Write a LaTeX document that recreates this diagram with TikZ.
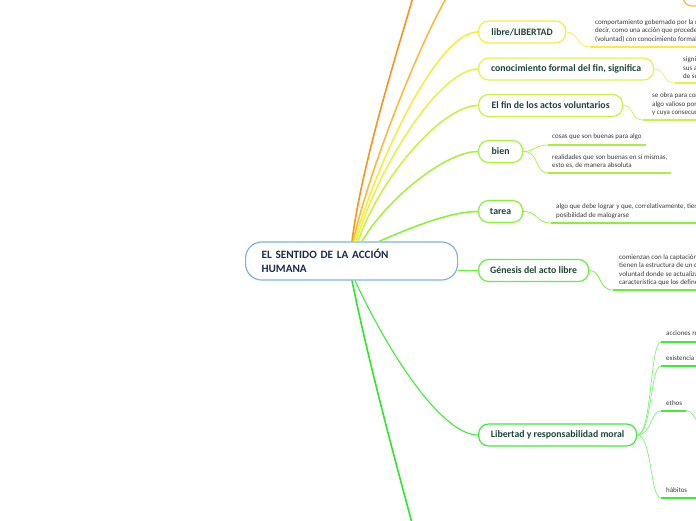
\documentclass[tikz,border=0pt]{standalone}
\usepackage{fontspec}
\setmainfont{Carlito}
\definecolor{cA}{HTML}{F7941D}
\definecolor{cB}{HTML}{FBB83A}
\definecolor{cC}{HTML}{F7EC3E}
\definecolor{cD}{HTML}{E6F24A}
\definecolor{cE}{HTML}{CBF043}
\definecolor{cF}{HTML}{ABF03E}
\definecolor{cG}{HTML}{8AF03A}
\definecolor{cH}{HTML}{66EE38}
\definecolor{cI}{HTML}{3EEC36}
\definecolor{cJ}{HTML}{2EE62E}
\definecolor{centB}{HTML}{7DB3DD}
\definecolor{titleC}{HTML}{1B2A4E}
\definecolor{txtG}{HTML}{1E4638}
\definecolor{leafC}{HTML}{3A3A3A}
\tikzset{
  central/.style={draw=centB, line width=1.2pt, rounded corners=16pt, fill=white,
    anchor=west, minimum height=38pt, text width=180pt, inner xsep=16pt, align=left,
    text=titleC, font=\bfseries\fontsize{11.2}{14}\selectfont},
  branch/.style={draw, rounded corners=10pt, line width=1.2pt, fill=white, anchor=west,
    minimum height=22pt, inner xsep=8pt, text=txtG, font=\bfseries\fontsize{9.8}{11}\selectfont},
  leaf/.style={anchor=west, align=left, inner sep=0pt, text=leafC,
    font=\fontsize{7}{8.5}\selectfont},
  mainline/.style={line width=1.6pt},
  thinline/.style={line width=1.1pt},
  subline/.style={line width=0.7pt},
  uline/.style={line width=2pt},
}
\begin{document}
\begin{tikzpicture}[x=1pt,y=-1pt]
\useasboundingbox (0,0) rectangle (696,520);
\clip (0,0) rectangle (696,520);

% central node
\node[central] (c) at (245,261) {EL SENTIDO DE LA ACCIÓN\\HUMANA};

% branch nodes
\node[branch, draw=cC, minimum width=87pt] (libre) at (478,32) {libre/LIBERTAD};
\node[branch, draw=cD, minimum width=175pt] (conoc) at (478,69) {conocimiento formal del fin, significa};
\node[branch, draw=cE, minimum width=144pt] (fin) at (478,105.5) {El fin de los actos voluntarios};
\node[branch, draw=cF, minimum width=44pt] (bien) at (478,151.5) {bien};
\node[branch, draw=cG, minimum width=44pt] (tarea) at (478,211.5) {tarea};
\node[branch, draw=cH, minimum width=110pt] (gen) at (478,270.5) {Génesis del acto libre};
\node[branch, draw=cI, minimum width=158pt] (lib) at (478,435) {Libertad y responsabilidad moral};

% off-picture ends of branches
\coordinate (topA) at (413,-3);
\coordinate (topB) at (447,-3);
\coordinate (botJ) at (412,523);

% main connectors
\draw[mainline, cA] ([xshift=107pt]c.north west) .. controls (362,160) and (404,30) .. (topA);
\draw[mainline, cB] ([xshift=108pt]c.north west) .. controls (372,160) and (423,37) .. (topB);
\draw[mainline, cC] ([xshift=109pt]c.north west) .. controls (384,145) and (440,32) .. (libre.west);
\draw[mainline, cD] ([xshift=111pt]c.north west) .. controls (382,158) and (442,69) .. (conoc.west);
\draw[mainline, cE] ([xshift=113pt]c.north west) .. controls (381,175) and (443,105.5) .. (fin.west);
\draw[mainline, cF] ([xshift=117pt]c.north west) .. controls (386,200) and (445,151.5) .. (bien.west);
\draw[mainline, cG] ([xshift=134pt]c.north west) .. controls (410,228) and (450,211.5) .. (tarea.west);
\draw[mainline, cH] ([yshift=-9.5pt]c.east) -- (gen.west);
\draw[thinline, cI] ([xshift=110pt]c.south west) .. controls (395,366) and (445,435) .. (lib.west);
\draw[mainline, cJ] ([xshift=107pt]c.south west) .. controls (368,360) and (395,460) .. (botJ);

% partial leaf at the top right
\coordinate (tpS) at (683,-8);
\coordinate (tpE) at (700,6);
\draw[line width=1.2pt, cB] (tpS) -- (683,-3) to[out=-90,in=180] (692,6) -- (tpE);

% leaf: libre
\coordinate (ulA) at (590,47);
\coordinate (ulAe) at (700,47);
\draw[subline, cC] (libre.east) .. controls (579,32) and (576,47) .. (ulA);
\draw[uline, cC] (ulA) -- (ulAe);
\node[leaf] (lA) at (595,31) {comportamiento gobernado por la razón, es\\decir, como una acción que procede de la\\(voluntad) con conocimiento formal del fin};

% leaf: conocimiento
\coordinate (ulB) at (675,83);
\coordinate (ulBe) at (700,83);
\draw[subline, cD] (conoc.east) .. controls (666,69) and (662,83) .. (ulB);
\draw[uline, cD] (ulB) -- (ulBe);
\node[leaf] (lB) at (683,68) {significa\\sus actos\\de su fin};

% leaf: El fin
\coordinate (ulC) at (643,120);
\coordinate (ulCe) at (700,120);
\draw[subline, cE] (fin.east) .. controls (635,105.5) and (630,120) .. (ulC);
\draw[uline, cE] (ulC) -- (ulCe);
\node[leaf] (lC) at (652,104.5) {se obra para conseguir\\algo valioso por sí mismo\\y cuya consecución};

% leaves: bien
\coordinate (ulD1) at (548,145);
\coordinate (ulD1e) at (646,145);
\coordinate (ulD2) at (548,173);
\coordinate (ulD2e) at (671,173);
\draw[subline, cF] (bien.east) .. controls (536,151.5) and (534,145) .. (ulD1);
\draw[subline, cF] (bien.east) .. controls (540,151.5) and (534,173) .. (ulD2);
\draw[uline, cF] (ulD1) -- (ulD1e);
\draw[uline, cF] (ulD2) -- (ulD2e);
\node[leaf] (lD1) at (552,137) {cosas que son buenas para algo};
\node[leaf] (lD2) at (552,161.5) {realidades que son buenas en sí mismas,\\esto es, de manera absoluta};

% leaf: tarea
\coordinate (ulE) at (551,223);
\coordinate (ulEe) at (700,223);
\draw[subline, cG] (tarea.east) .. controls (538,211.5) and (536,223) .. (ulE);
\draw[uline, cG] (ulE) -- (ulEe);
\node[leaf] (lE) at (556,211) {algo que debe lograr y que, correlativamente, tiene la\\posibilidad de malograrse};

% leaf: Génesis
\coordinate (ulF) at (613,290);
\coordinate (ulFe) at (700,290);
\draw[subline, cH] (gen.east) .. controls (602,270.5) and (598,290) .. (ulF);
\draw[uline, cH] (ulF) -- (ulFe);
\node[leaf] (lF) at (619,270) {comienzan con la captación del\\tienen la estructura de un dinamismo\\voluntad donde se actualiza\\característica que los define};

% leaves: Libertad y responsabilidad moral
\coordinate (ulG1) at (661,342);
\coordinate (ulG2) at (661,366);
\coordinate (ulG3) at (661,411);
\coordinate (ulG3e) at (686,411);
\coordinate (ulG4) at (661,498);
\coordinate (ulGe1) at (700,342);
\coordinate (ulGe2) at (700,366);
\coordinate (ulGe4) at (700,498);
\coordinate (ethK) at (700,422);
\draw[subline, cI!70] (lib.east) .. controls (652,435) and (650,342) .. (ulG1);
\draw[subline, cI!70] (lib.east) .. controls (652,435) and (650,366) .. (ulG2);
\draw[subline, cI!70] (lib.east) .. controls (652,435) and (650,411) .. (ulG3);
\draw[subline, cI!70] (lib.east) .. controls (652,435) and (650,498) .. (ulG4);
\draw[uline, cI] (ulG1) -- (ulGe1);
\draw[uline, cI] (ulG2) -- (ulGe2);
\draw[uline, cI] (ulG3) -- (ulG3e);
\draw[uline, cI] (ulG4) -- (ulGe4);
\draw[subline, cI!70] (ulG3e) .. controls (694,411) and (692,418) .. (ethK);
\node[leaf] (lG1) at (666,334) {acciones responsables};
\node[leaf] (lG2) at (666,358) {existencia};
\node[leaf] (lG3) at (666,403) {ethos};
\node[leaf] (lG4) at (666,490) {hábitos};
\end{tikzpicture}
\end{document}
